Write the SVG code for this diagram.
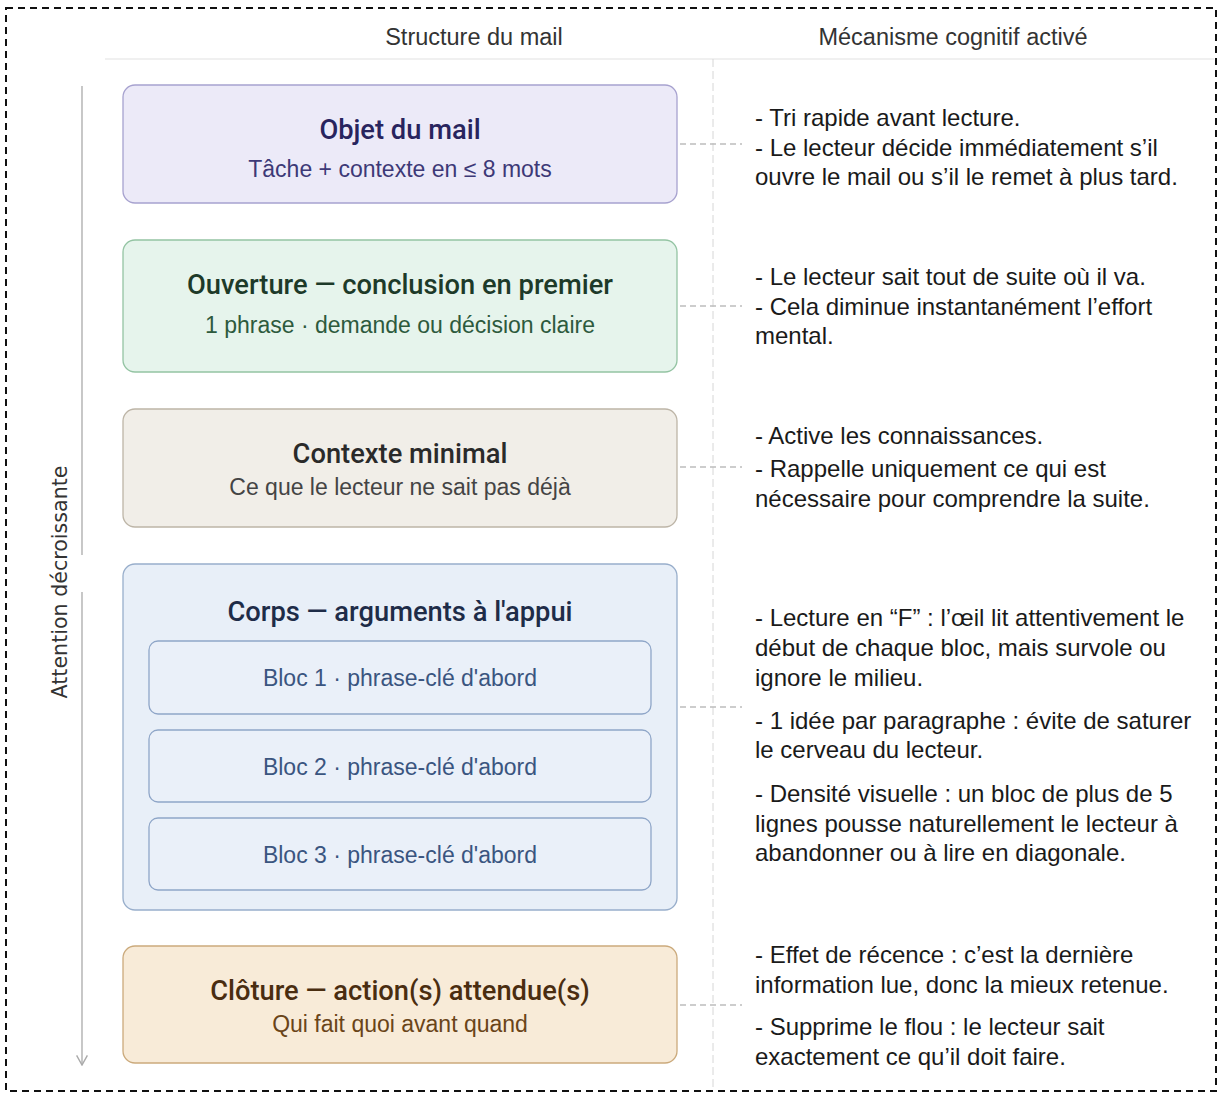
<svg xmlns="http://www.w3.org/2000/svg" width="1222" height="1100" viewBox="0 0 1222 1100">
<defs>
<style>
.hdr{font-family:"Liberation Sans",Arial,sans-serif;font-size:23.5px;fill:#333;text-anchor:middle}
.ttl{font-family:Roboto,"Liberation Sans",sans-serif;font-weight:500;font-size:27.3px;text-anchor:middle}
.sub{font-family:"Liberation Sans",Arial,sans-serif;font-size:23px;text-anchor:middle}
.txt{font-family:"Liberation Sans",Arial,sans-serif;font-size:24px;fill:#1a1a1a}
.conn{stroke:#bdbdbd;stroke-width:1.3;stroke-dasharray:6 4;fill:none}
.box{stroke-width:1.3}
</style>
<marker id="arr" viewBox="0 0 10 10" refX="9" refY="5" markerWidth="12" markerHeight="12" markerUnits="userSpaceOnUse" orient="auto">
<path d="M1,0.5 L9,5 L1,9.5" fill="none" stroke="#aaa" stroke-width="1.2"/>
</marker>
</defs>
<rect x="0" y="0" width="1222" height="1100" fill="#fff"/>
<rect x="6" y="8" width="1210" height="1083" fill="none" stroke="#111" stroke-width="2" stroke-dasharray="7 5"/>

<g id="header">
<line x1="105" y1="59" x2="1214" y2="59" stroke="#ebebeb" stroke-width="1.3"/>
<text class="hdr" x="474" y="45">Structure du mail</text>
<text class="hdr" x="953" y="45">Mécanisme cognitif activé</text>
</g>

<g id="axis">
<line x1="82" y1="86" x2="82" y2="555" stroke="#aaa" stroke-width="1.3"/>
<line x1="82" y1="592" x2="82" y2="1065" stroke="#aaa" stroke-width="1.3" marker-end="url(#arr)"/>
<text x="60" y="582" transform="rotate(-90 60 582)" dy="7" text-anchor="middle" font-family="'DejaVu Sans',sans-serif" font-size="20.6" fill="#333">Attention décroissante</text>
</g>

<g id="connectors">
<line x1="713" y1="59" x2="713" y2="1090" stroke="#d6d6d6" stroke-width="1" stroke-dasharray="8 4"/>
<line class="conn" x1="680" y1="144" x2="742" y2="144"/>
<line class="conn" x1="680" y1="306" x2="742" y2="306"/>
<line class="conn" x1="680" y1="467" x2="742" y2="467"/>
<line class="conn" x1="680" y1="707" x2="742" y2="707"/>
<line class="conn" x1="680" y1="1005" x2="742" y2="1005"/>
</g>

<g id="objet">
<rect class="box" x="123" y="85" width="554" height="118" rx="12" fill="#ECEAF8" stroke="#A7A2CF"/>
<text class="ttl" x="400" y="139" fill="#28245E">Objet du mail</text>
<text class="sub" x="400" y="177" fill="#3D3977">Tâche + contexte en ≤ 8 mots</text>
</g>

<g id="ouverture">
<rect class="box" x="123" y="240" width="554" height="132" rx="12" fill="#E6F4EC" stroke="#94C4A3"/>
<text class="ttl" x="400" y="294" fill="#1D3A29">Ouverture — conclusion en premier</text>
<text class="sub" x="400" y="333" fill="#2D5A3D">1 phrase · demande ou décision claire</text>
</g>

<g id="contexte">
<rect class="box" x="123" y="409" width="554" height="118" rx="12" fill="#F1EEE8" stroke="#BDB5A7"/>
<text class="ttl" x="400" y="463" fill="#2A2A2A">Contexte minimal</text>
<text class="sub" x="400" y="495" fill="#444">Ce que le lecteur ne sait pas déjà</text>
</g>

<g id="corps">
<rect class="box" x="123" y="564" width="554" height="346" rx="12" fill="#E8EFF8" stroke="#98AECB"/>
<text class="ttl" x="400" y="621" fill="#1E2C48">Corps — arguments à l'appui</text>
</g>
<g id="bloc1">
<rect class="box" x="149" y="641" width="502" height="73" rx="9" fill="#EAF0F9" stroke="#8FA6C8"/>
<text class="sub" x="400" y="686" fill="#3A5580">Bloc 1 · phrase-clé d'abord</text>
</g>
<g id="bloc2">
<rect class="box" x="149" y="730" width="502" height="72" rx="9" fill="#EAF0F9" stroke="#8FA6C8"/>
<text class="sub" x="400" y="775" fill="#3A5580">Bloc 2 · phrase-clé d'abord</text>
</g>
<g id="bloc3">
<rect class="box" x="149" y="818" width="502" height="72" rx="9" fill="#EAF0F9" stroke="#8FA6C8"/>
<text class="sub" x="400" y="863" fill="#3A5580">Bloc 3 · phrase-clé d'abord</text>
</g>

<g id="cloture">
<rect class="box" x="123" y="946" width="554" height="117" rx="12" fill="#F8EBD8" stroke="#CBAA7C"/>
<text class="ttl" x="400" y="1000" fill="#4A2D10">Clôture — action(s) attendue(s)</text>
<text class="sub" x="400" y="1032" fill="#6A4418">Qui fait quoi avant quand</text>
</g>

<g id="mecanismes">
<text class="txt" x="755" y="126">- Tri rapide avant lecture.</text>
<text class="txt" x="755" y="156">- Le lecteur décide immédiatement s’il</text>
<text class="txt" x="755" y="185">ouvre le mail ou s’il le remet à plus tard.</text>

<text class="txt" x="755" y="285">- Le lecteur sait tout de suite où il va.</text>
<text class="txt" x="755" y="315">- Cela diminue instantanément l’effort</text>
<text class="txt" x="755" y="344">mental.</text>

<text class="txt" x="755" y="444">- Active les connaissances.</text>
<text class="txt" x="755" y="477">- Rappelle uniquement ce qui est</text>
<text class="txt" x="755" y="507">nécessaire pour comprendre la suite.</text>

<text class="txt" x="755" y="626">- Lecture en “F” : l’œil lit attentivement le</text>
<text class="txt" x="755" y="656">début de chaque bloc, mais survole ou</text>
<text class="txt" x="755" y="686">ignore le milieu.</text>
<text class="txt" x="755" y="729">- 1 idée par paragraphe : évite de saturer</text>
<text class="txt" x="755" y="758">le cerveau du lecteur.</text>
<text class="txt" x="755" y="802">- Densité visuelle : un bloc de plus de 5</text>
<text class="txt" x="755" y="832">lignes pousse naturellement le lecteur à</text>
<text class="txt" x="755" y="861">abandonner ou à lire en diagonale.</text>

<text class="txt" x="755" y="963">- Effet de récence : c’est la dernière</text>
<text class="txt" x="755" y="993">information lue, donc la mieux retenue.</text>
<text class="txt" x="755" y="1035">- Supprime le flou : le lecteur sait</text>
<text class="txt" x="755" y="1065">exactement ce qu’il doit faire.</text>
</g>
</svg>
